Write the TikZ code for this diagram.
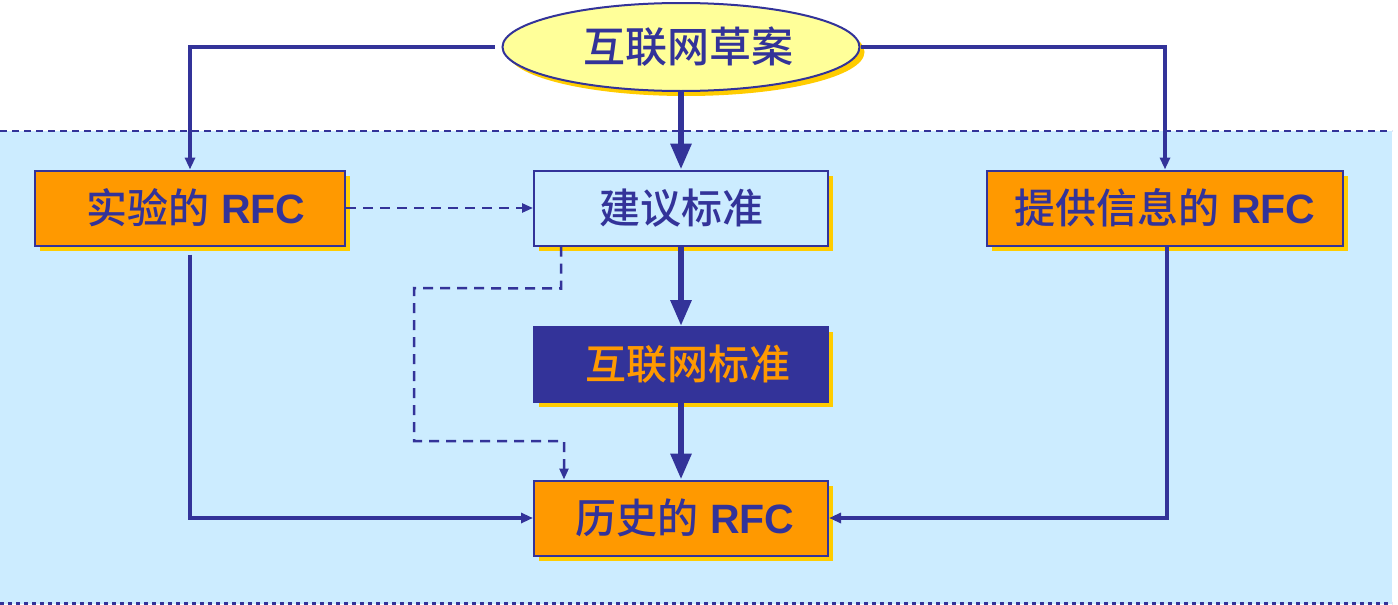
\documentclass[tikz,border=0pt]{standalone}
\usepackage{fontspec}
\setmainfont{Liberation Sans}
\newfontfamily\cjk{Noto Sans CJK SC Medium}
\usetikzlibrary{arrows.meta,shapes.geometric}
\definecolor{navy}{HTML}{333399}
\definecolor{orng}{HTML}{FF9900}
\definecolor{shyel}{HTML}{FFCC00}
\definecolor{ltblue}{HTML}{CCECFF}
\definecolor{ellfill}{HTML}{FFFF99}
\tikzset{
  shadowed/.style={preaction={fill=shyel,transform canvas={xshift=5pt,yshift=-5pt}}},
  boxbase/.style={shadowed,draw=navy,line width=2pt,inner sep=0pt,
     font=\fontsize{41}{44}\selectfont,text=navy,minimum height=75pt},
  orangebox/.style={boxbase,fill=orng},
  thickarrow/.style={draw=navy,line width=6pt,-{Triangle[width=20pt,length=26pt]}},
  thinarrow/.style={draw=navy,line width=4pt,-{Triangle[width=10pt,length=12pt]}},
  dasharrow/.style={draw=navy,line width=2.5pt,dash pattern=on 10pt off 7pt,-{Triangle[width=9pt,length=11pt]}},
}
\newcommand{\rfc}{\bfseries RFC}
\begin{document}
\begin{tikzpicture}[x=1pt,y=-1pt]
\useasboundingbox (0,0) rectangle (1398,605);
% background band
\fill[ltblue] (0,131) rectangle (1392,604);
\draw[navy,line width=2pt,dash pattern=on 7pt off 5pt] (0,131) -- (1392,131);
\draw[navy,line width=3pt,dash pattern=on 4pt off 4pt] (0,603) -- (1392,603);

% nodes
\node[ellipse,shadowed,draw=navy,line width=2pt,fill=ellfill,minimum width=357pt,minimum height=88pt,inner sep=0pt,
      font=\fontsize{42}{44}\selectfont,text=navy] (ell) at (681,47) {\hspace*{14pt}\cjk 互联网草案};
\node[orangebox,minimum width=310pt] (exp) at (190,208) {\raisebox{-3pt}{\hspace*{12pt}{\cjk 实验的} \rfc}};
\node[boxbase,fill=ltblue,minimum width=294pt] (prop) at (681,208) {\raisebox{-2pt}{\cjk 建议标准}};
\node[boxbase,fill=navy,text=orng,minimum width=294pt] (std) at (681,364.5) {\raisebox{-4pt}{\hspace*{14pt}\cjk 互联网标准}};
\node[orangebox,minimum width=294pt] (hist) at (681,518) {\raisebox{-4pt}{\hspace*{8pt}{\cjk 历史的} \rfc}};
\node[orangebox,minimum width=356pt] (info) at (1165,208) {\raisebox{-3pt}{{\cjk 提供信息的} \rfc}};

% connectors
\draw[thickarrow] (ell.south) -- (prop.north);
\draw[thickarrow] (prop.south) -- (std.north);
\draw[thickarrow] (std.south) -- (hist.north);
\draw[thinarrow] ([xshift=-7pt]ell.west) -| (exp.north);
\draw[thinarrow] (ell.east) -| (info.north);
\draw[thinarrow] ([yshift=-8pt]exp.south) |- (hist.west);
\draw[thinarrow] ([xshift=2pt]info.south) |- (hist.east);
\draw[dasharrow] (exp.east) -- (prop.west);
\coordinate (d1) at (414,288);
\coordinate (d2) at (414,441);
\draw[dasharrow] ([xshift=28pt]prop.south west) -- ++(0,42) -- (d1) -- (d2)
   -- ([xshift=31pt]hist.north west |- d2) -- ([xshift=31pt]hist.north west);
\end{tikzpicture}
\end{document}
